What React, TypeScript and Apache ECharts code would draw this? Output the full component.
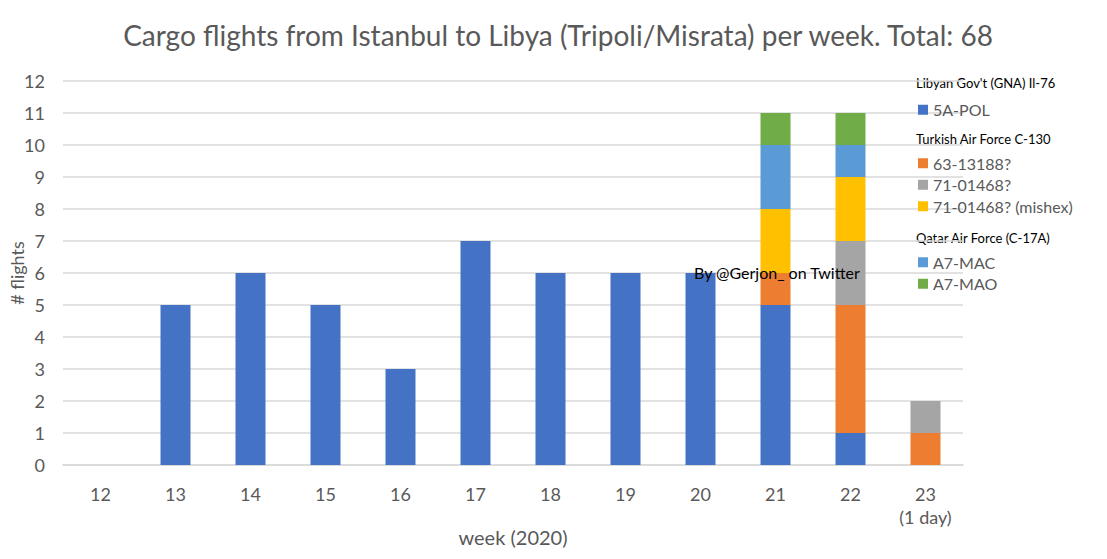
import React, { useEffect, useRef } from "react";
import * as echarts from "echarts";

const weeks = ["12", "13", "14", "15", "16", "17", "18", "19", "20", "21", "22", "23\n(1 day)"];
const pol5A = [0, 5, 6, 5, 3, 7, 6, 6, 6, 5, 1, 0];
const tk63 = [0, 0, 0, 0, 0, 0, 0, 0, 0, 1, 4, 1];
const tk71 = [0, 0, 0, 0, 0, 0, 0, 0, 0, 0, 2, 1];
const tk71mishex = [0, 0, 0, 0, 0, 0, 0, 0, 0, 2, 2, 0];
const a7mac = [0, 0, 0, 0, 0, 0, 0, 0, 0, 2, 1, 0];
const a7mao = [0, 0, 0, 0, 0, 0, 0, 0, 0, 1, 1, 0];

const seriesDefs = [
  { name: "5A-POL", data: pol5A, color: "#4472C4" },
  { name: "63-13188?", data: tk63, color: "#ED7D31" },
  { name: "71-01468?", data: tk71, color: "#A5A5A5" },
  { name: "71-01468? (mishex)", data: tk71mishex, color: "#FFC000" },
  { name: "A7-MAC", data: a7mac, color: "#5B9BD5" },
  { name: "A7-MAO", data: a7mao, color: "#70AD47" },
];

const FONT = "Lato, 'Liberation Sans', sans-serif";

export default function App() {
  const ref = useRef<HTMLDivElement>(null);
  useEffect(() => {
    if (!ref.current) return;
    const chart = echarts.init(ref.current, null, { renderer: "svg" });
    const legendBase = {
      orient: "vertical" as const,
      left: 918,
      itemWidth: 10,
      itemHeight: 10,
      itemGap: 0,
      icon: "rect",
      textStyle: { fontFamily: FONT, fontSize: 16, color: "#595959", lineHeight: 21.5 },
      padding: 0,
    };
    chart.setOption({
      animation: false,
      textStyle: { fontFamily: FONT },
      title: {
        text: "Cargo flights from Istanbul to Libya (Tripoli/Misrata) per week. Total: 68",
        left: 553,
        textAlign: "center",
        top: 16,
        textStyle: { fontFamily: FONT, fontSize: 28, fontWeight: "normal", color: "#595959" },
      },
      legend: [
        { ...legendBase, top: 99, data: ["5A-POL"] },
        { ...legendBase, top: 152.5, data: ["63-13188?", "71-01468?", "71-01468? (mishex)"] },
        { ...legendBase, top: 251.5, data: ["A7-MAC", "A7-MAO"] },
      ],
      graphic: [
        { type: "text", x: 916, y: 83, style: { text: "Libyan Gov't (GNA) Il-76", font: `13px ${FONT}`, fill: "#000", verticalAlign: "middle" } },
        { type: "text", x: 916, y: 139, style: { text: "Turkish Air Force C-130", font: `13px ${FONT}`, fill: "#000", verticalAlign: "middle" } },
        { type: "text", x: 916, y: 238, style: { text: "Qatar Air Force (C-17A)", font: `13px ${FONT}`, fill: "#000", verticalAlign: "middle" } },
        { type: "text", x: 694, y: 272, z: 100, style: { text: "By @Gerjon_ on Twitter", font: `16px ${FONT}`, fill: "#000", verticalAlign: "middle" } },
      ],
      grid: { left: 63, right: 144, top: 81, bottom: 94, containLabel: false, outerBoundsMode: "none" },
      xAxis: {
        type: "category",
        data: weeks,
        name: "week (2020)",
        nameLocation: "middle",
        nameGap: 62,
        nameMoveOverlap: false,
        nameTextStyle: { fontFamily: FONT, fontSize: 20, color: "#595959" },
        axisLine: { lineStyle: { color: "#D9D9D9", width: 1.5 } },
        axisTick: { show: false },
        axisLabel: { fontFamily: FONT, fontSize: 18, color: "#595959", margin: 17, lineHeight: 23, verticalAlign: "top" },
      },
      yAxis: {
        type: "value",
        min: 0,
        max: 12,
        interval: 1,
        name: "# flights",
        nameLocation: "middle",
        nameGap: 37,
        nameMoveOverlap: false,
        nameTextStyle: { fontFamily: FONT, fontSize: 18, color: "#595959" },
        axisLabel: { fontFamily: FONT, fontSize: 18, color: "#595959", margin: 18 },
        splitLine: { lineStyle: { color: "#D9D9D9", width: 1.5 } },
      },
      series: seriesDefs.map((s) => ({
        name: s.name,
        type: "bar",
        stack: "total",
        barWidth: "40%",
        itemStyle: { color: s.color },
        data: s.data,
      })),
    });
    return () => chart.dispose();
  }, []);
  return <div ref={ref} style={{ width: 1107, height: 559, position: "absolute", left: 0, top: 0, background: "#fff" }} />;
}
